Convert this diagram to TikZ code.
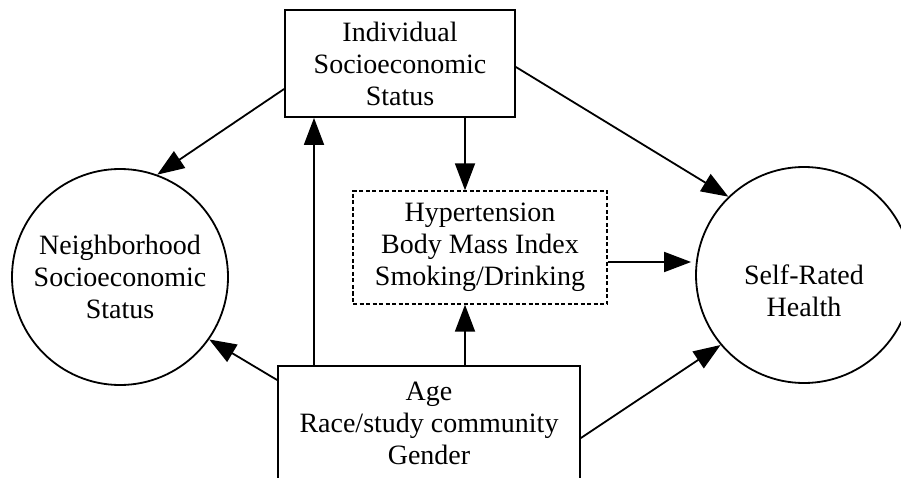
\documentclass[tikz,border=0pt]{standalone}
\usepackage{fontspec}
\setmainfont{Liberation Serif}
\usetikzlibrary{arrows.meta}
\begin{document}
\begin{tikzpicture}[x=1pt,y=-1pt,
  every node/.style={font=\fontsize{28}{32}\selectfont, align=center, inner sep=0pt},
  varbox/.style={draw, line width=1.8pt, rectangle},
  medbox/.style={draw, line width=1.4pt, dash pattern=on 4pt off 2.5pt, rectangle},
  outcome/.style={draw, line width=1.8pt, circle, minimum size=216pt},
  arr/.style={-{Triangle[length=27pt,width=20pt]}, line width=1.8pt}]
  \fill[white] (0,0) rectangle (901,478);
  \useasboundingbox (0,0) rectangle (901,478);

  % variables
  \node[varbox, minimum width=230pt, minimum height=107pt] (ind) at (400,63.5)
    {Individual\\Socioeconomic\\Status};
  \node[medbox, minimum width=254pt, minimum height=113pt] (med) at (480,247.5)
    {Hypertension\\Body Mass Index\\Smoking/Drinking};
  \node[varbox, minimum width=302pt, minimum height=115pt] (cov) at (429,423.5)
    {Age\\Race/study community\\Gender};
  \node[outcome] (nbh) at (120,277) {Neighborhood\\Socioeconomic\\Status};
  \node[outcome] (srh) at (804,275) {};
  \node (srhtext) at (804,291) {Self-Rated\\Health};

  % paths
  \draw[arr] ([yshift=-25.5pt]ind.west) -- (nbh.70);
  \draw[arr] ([xshift=65pt]ind.south) -- ([xshift=65pt]ind.south |- med.north);
  \draw[arr] ([yshift=-3.5pt]ind.east) -- (srh.134);
  \coordinate (medout) at ([yshift=-14.5pt]med.east);
  \draw[arr] (medout) -- ([xshift=-4pt]medout -| srh.west);
  \draw[arr] ([yshift=43.5pt]cov.west) -- (nbh.-35);
  \draw[arr] ([xshift=-115pt]cov.north) -- ([xshift=-115pt]cov.north |- ind.south);
  \draw[arr] ([xshift=36pt]cov.north) -- ([xshift=36pt]cov.north |- med.south);
  \draw[arr] ([yshift=-14.5pt]cov.east) -- (srh.220);
\end{tikzpicture}
\end{document}
